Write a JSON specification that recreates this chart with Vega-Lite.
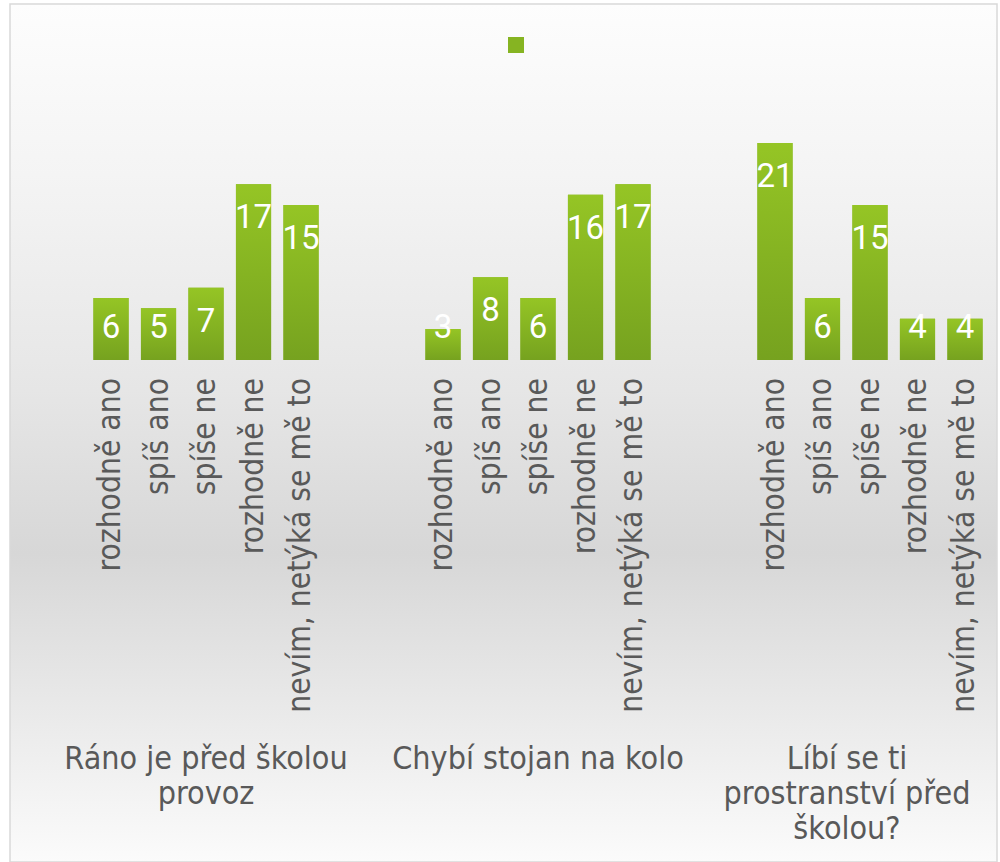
{
  "$schema": "https://vega.github.io/schema/vega-lite/v6.json",
  "width": 1000,
  "height": 862,
  "autosize": {"type": "fit", "contains": "padding"},
  "padding": {"left": 10, "top": 4, "right": 3, "bottom": 0},
  "background": "#ffffff",
  "config": {
    "font": "DejaVu Sans Condensed",
    "view": {
      "stroke": "#d9d9d9",
      "strokeWidth": 1.5,
      "fill": {
        "gradient": "linear",
        "x1": 0, "y1": 0, "x2": 0, "y2": 1,
        "stops": [
          {"offset": 0, "color": "#fdfdfd"},
          {"offset": 0.2, "color": "#f4f4f4"},
          {"offset": 0.45, "color": "#e6e6e6"},
          {"offset": 0.64, "color": "#d7d7d7"},
          {"offset": 0.8, "color": "#e7e7e7"},
          {"offset": 1, "color": "#fbfbfb"}
        ]
      }
    }
  },
  "data": {
    "values": [
      {"g": "Ráno je před školou provoz", "c": "rozhodně ano", "v": 6, "s": " "},
      {"g": "Ráno je před školou provoz", "c": "spíš ano", "v": 5, "s": " "},
      {"g": "Ráno je před školou provoz", "c": "spíše ne", "v": 7, "s": " "},
      {"g": "Ráno je před školou provoz", "c": "rozhodně ne", "v": 17, "s": " "},
      {"g": "Ráno je před školou provoz", "c": "nevím, netýká se mě to", "v": 15, "s": " "},
      {"g": "Chybí stojan na kolo", "c": "rozhodně ano", "v": 3, "s": " "},
      {"g": "Chybí stojan na kolo", "c": "spíš ano", "v": 8, "s": " "},
      {"g": "Chybí stojan na kolo", "c": "spíše ne", "v": 6, "s": " "},
      {"g": "Chybí stojan na kolo", "c": "rozhodně ne", "v": 16, "s": " "},
      {"g": "Chybí stojan na kolo", "c": "nevím, netýká se mě to", "v": 17, "s": " "},
      {"g": "Líbí se ti prostranství před školou?", "c": "rozhodně ano", "v": 21, "s": " "},
      {"g": "Líbí se ti prostranství před školou?", "c": "spíš ano", "v": 6, "s": " "},
      {"g": "Líbí se ti prostranství před školou?", "c": "spíše ne", "v": 15, "s": " "},
      {"g": "Líbí se ti prostranství před školou?", "c": "rozhodně ne", "v": 4, "s": " "},
      {"g": "Líbí se ti prostranství před školou?", "c": "nevím, netýká se mě to", "v": 4, "s": " "}
    ]
  },
  "encoding": {
    "x": {
      "field": "g",
      "type": "nominal",
      "sort": ["Ráno je před školou provoz", "Chybí stojan na kolo", "Líbí se ti prostranství před školou?"],
      "axis": null,
      "scale": {"paddingInner": 0.2846, "paddingOuter": 0.1288, "align": 0.9035}
    }
  },
  "layer": [
    {
      "mark": {"type": "bar"},
      "encoding": {
        "xOffset": {
          "field": "c", "type": "nominal",
          "sort": ["rozhodně ano", "spíš ano", "spíše ne", "rozhodně ne", "nevím, netýká se mě to"],
          "scale": {"paddingInner": 0.26, "paddingOuter": 0.13}
        },
        "y": {
          "field": "v", "type": "quantitative", "axis": null,
          "scale": {"domain": [-48.58, 34.45], "nice": false, "zero": false}
        },
        "fill": {
          "field": "s", "type": "nominal",
          "scale": {"range": ["#86b422"]},
          "legend": {
            "orient": "none", "legendX": 498, "legendY": 33,
            "title": null, "symbolType": "square", "symbolSize": 256,
            "symbolStrokeWidth": 0, "padding": 0, "labelFontSize": 2, "symbolOpacity": 1
          }
        }
      }
    },
    {
      "mark": {
        "type": "bar",
        "color": {
          "gradient": "linear", "x1": 0, "y1": 0, "x2": 0, "y2": 1,
          "stops": [
            {"offset": 0, "color": "#95c525"},
            {"offset": 1, "color": "#76a21f"}
          ]
        }
      },
      "encoding": {
        "xOffset": {"field": "c", "type": "nominal", "sort": ["rozhodně ano", "spíš ano", "spíše ne", "rozhodně ne", "nevím, netýká se mě to"]},
        "y": {"field": "v", "type": "quantitative"}
      }
    },
    {
      "mark": {
        "type": "text", "color": "#ffffff", "font": "Roboto", "fontSize": 33,
        "baseline": "middle", "align": "center",
        "dy": {"expr": "min(34, scale('y', 0) - scale('y', datum.v) - 32)"}
      },
      "encoding": {
        "xOffset": {"field": "c", "type": "nominal", "sort": ["rozhodně ano", "spíš ano", "spíše ne", "rozhodně ne", "nevím, netýká se mě to"]},
        "y": {"field": "v", "type": "quantitative"},
        "text": {"field": "v", "type": "quantitative"}
      }
    },
    {
      "mark": {
        "type": "text", "angle": 270, "align": "right", "baseline": "middle",
        "fontSize": 31.5, "color": "#595959"
      },
      "encoding": {
        "xOffset": {"field": "c", "type": "nominal", "sort": ["rozhodně ano", "spíš ano", "spíše ne", "rozhodně ne", "nevím, netýká se mě to"]},
        "y": {"datum": -1.74},
        "text": {"field": "c", "type": "nominal"}
      }
    },
    {
      "data": {
        "values": [
          {"g": "Ráno je před školou provoz", "label": "Ráno je před školou\nprovoz"},
          {"g": "Chybí stojan na kolo", "label": "Chybí stojan na kolo"},
          {"g": "Líbí se ti prostranství před školou?", "label": "Líbí se ti\nprostranství před\nškolou?"}
        ]
      },
      "mark": {
        "type": "text", "align": "center", "baseline": "top", "lineBreak": "\n",
        "lineHeight": 35, "fontSize": 32, "color": "#595959",
        "dx": {"expr": "indexof(datum.label, 'Líbí') == 0 ? -23 : 0"}
      },
      "encoding": {
        "y": {"datum": -37.2},
        "text": {"field": "label", "type": "nominal"}
      }
    }
  ]
}
